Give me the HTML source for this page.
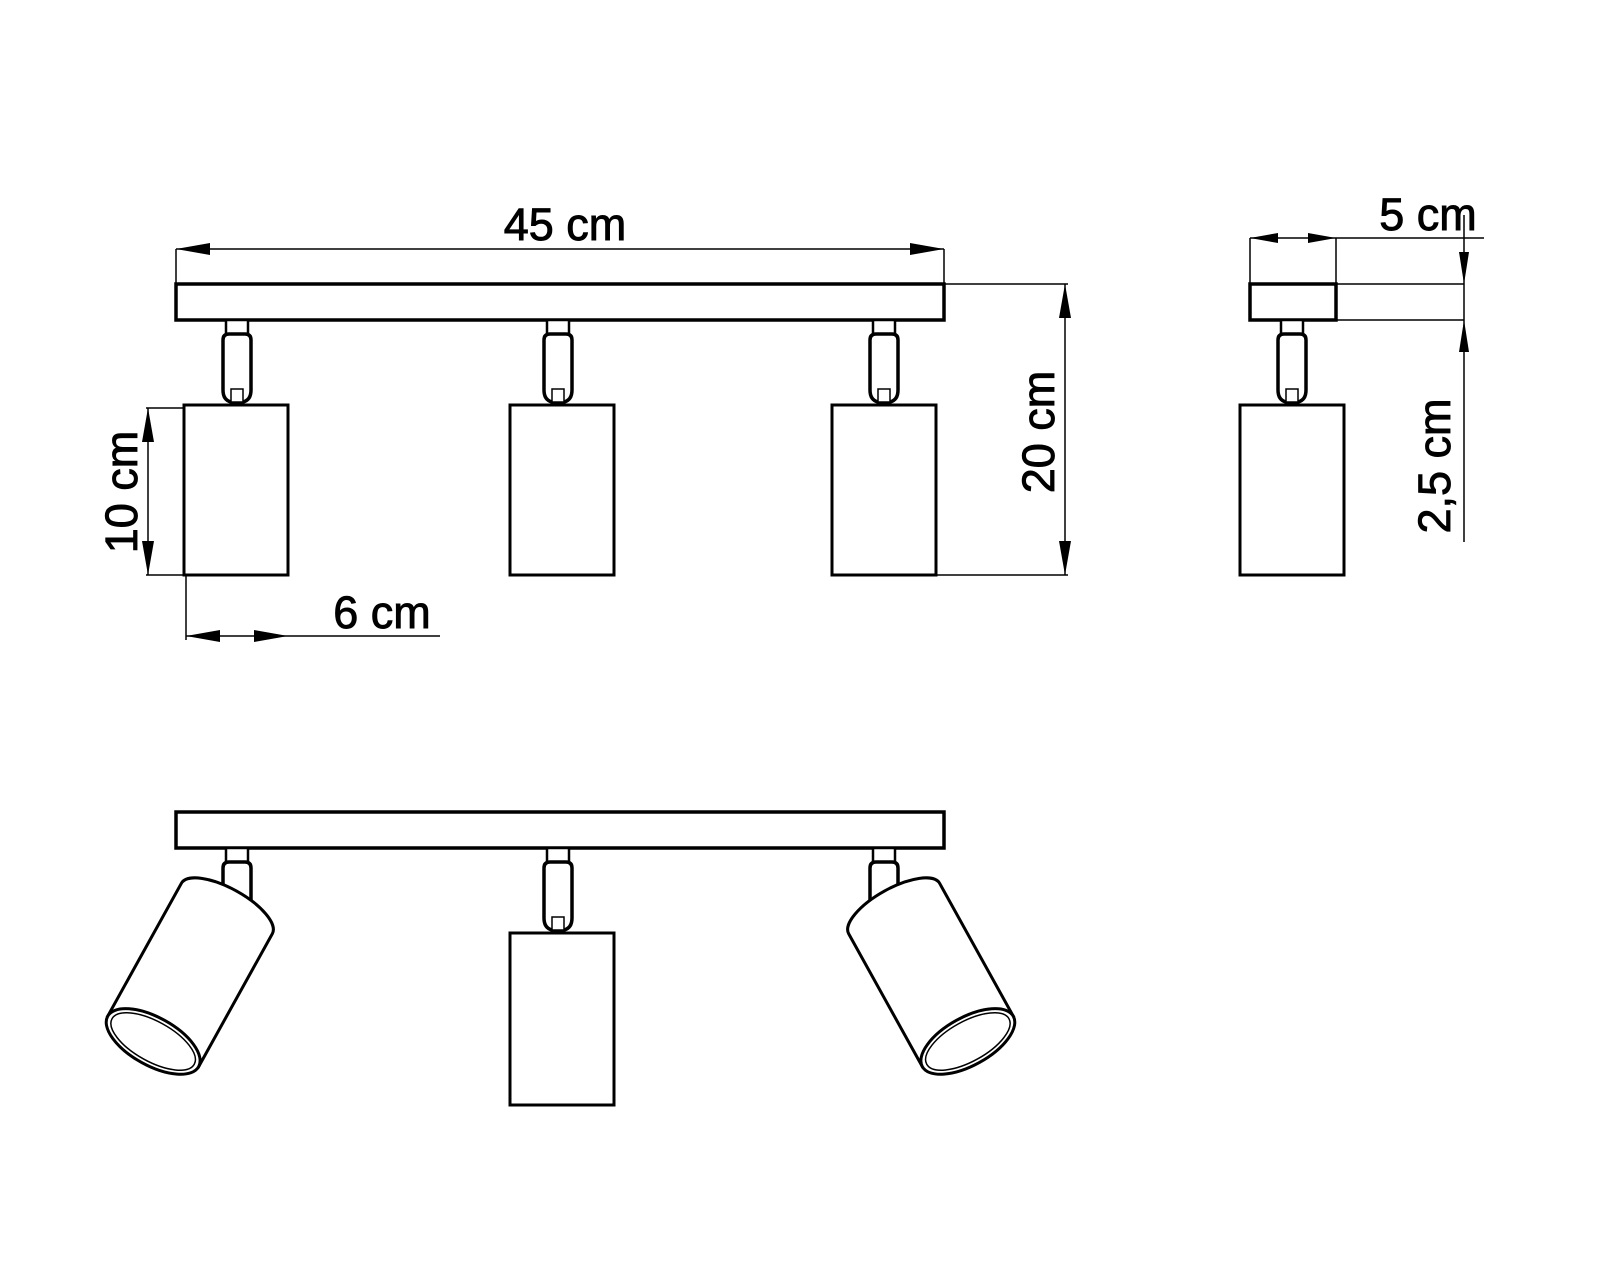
<!DOCTYPE html>
<html><head><meta charset="utf-8"><style>
html,body{margin:0;padding:0;background:#fff;}
svg{display:block;}
text{font-family:"Liberation Sans",Arial,sans-serif;font-size:45px;fill:#000;stroke:#000;stroke-width:0.9px;}
</style></head><body>
<svg width="1600" height="1280" viewBox="0 0 1600 1280" xmlns="http://www.w3.org/2000/svg">
<defs>
<g id="stem" fill="#fff" stroke="#000">
  <rect x="-11" y="0" width="22" height="14" stroke-width="2.5"/>
  <path d="M-14,20 Q-14,14 -8,14 L8,14 Q14,14 14,20 L14,70 Q14,80 6,82 L-6,82 Q-14,80 -14,70 Z" stroke-width="3.5"/>
  <rect x="-6" y="69" width="12" height="13" stroke-width="1.5"/>
</g>
<g id="cyl" fill="#fff" stroke="#000">
  <path d="M-52,-76 A52 20 0 0 1 52,-76 L52,76 L-52,76 Z" stroke-width="3"/>
  <ellipse cx="0" cy="76" rx="52" ry="24" stroke-width="3"/>
  <ellipse cx="0" cy="76" rx="47" ry="20" stroke-width="1.5"/>
</g>
</defs>
<g fill="none" stroke="#000">
<rect x="176" y="284" width="768" height="36" stroke-width="3.5" fill="#fff"/>
<g transform="translate(237,320)"><use href="#stem"/></g>
<g transform="translate(558,320)"><use href="#stem"/></g>
<g transform="translate(884,320)"><use href="#stem"/></g>
<rect x="184" y="405" width="104" height="170" stroke-width="3"/>
<rect x="510" y="405" width="104" height="170" stroke-width="3"/>
<rect x="832" y="405" width="104" height="170" stroke-width="3"/>

<g stroke-width="1.5">
<line x1="176" y1="249" x2="944" y2="249"/>
<line x1="176" y1="249" x2="176" y2="284"/>
<line x1="944" y1="249" x2="944" y2="284"/>
<line x1="944" y1="284" x2="1068" y2="284"/>
<line x1="936" y1="575" x2="1068" y2="575"/>
<line x1="1065" y1="284" x2="1065" y2="575"/>
<line x1="146" y1="408" x2="184" y2="408"/>
<line x1="146" y1="575" x2="184" y2="575"/>
<line x1="148" y1="408" x2="148" y2="575"/>
<line x1="186" y1="575" x2="186" y2="640"/>
<line x1="186" y1="636" x2="440" y2="636"/>
<line x1="1250" y1="238" x2="1484" y2="238"/>
<line x1="1250" y1="238" x2="1250" y2="284"/>
<line x1="1336" y1="238" x2="1336" y2="284"/>
<line x1="1336" y1="284" x2="1464" y2="284"/>
<line x1="1336" y1="320" x2="1464" y2="320"/>
<line x1="1464" y1="215" x2="1464" y2="542"/>
</g>
</g>
<g fill="#000">
<polygon points="176,249 210,243 210,255"/>
<polygon points="944,249 910,243 910,255"/>
<polygon points="1065,284 1059,318 1071,318"/>
<polygon points="1065,575 1059,541 1071,541"/>
<polygon points="148,408 142,442 154,442"/>
<polygon points="148,575 142,541 154,541"/>
<polygon points="186,636 220,630 220,642"/>
<polygon points="288,636 254,630 254,642"/>
<polygon points="1250,238 1278,233 1278,243"/>
<polygon points="1336,238 1308,233 1308,243"/>
<polygon points="1464,284 1459,252 1469,252"/>
<polygon points="1464,320 1459,352 1469,352"/>
</g>
<text x="565" y="240" text-anchor="middle">45 cm</text>
<text transform="translate(1054,432) rotate(-90)" text-anchor="middle">20 cm</text>
<text transform="translate(137,492) rotate(-90)" text-anchor="middle">10 cm</text>
<text x="382" y="628" text-anchor="middle">6 cm</text>
<text x="1428" y="230" text-anchor="middle">5 cm</text>
<text transform="translate(1450,466) rotate(-90)" text-anchor="middle">2,5 cm</text>

<g fill="#fff" stroke="#000">
<rect x="1250" y="284" width="86" height="36" stroke-width="3.5"/>
<g transform="translate(1292,320)"><use href="#stem"/></g>
<rect x="1240" y="405" width="104" height="170" stroke-width="3"/>
</g>

<g fill="#fff" stroke="#000">
<rect x="176" y="812" width="768" height="36" stroke-width="3.5"/>
<g transform="translate(237,848)"><use href="#stem"/></g>
<g transform="translate(558,848)"><use href="#stem"/></g>
<g transform="translate(884,848)"><use href="#stem"/></g>
<rect x="510" y="933" width="104" height="172" stroke-width="3"/>
<g transform="translate(190,975) rotate(29)"><use href="#cyl"/></g>
<g transform="translate(931,975) rotate(-29)"><use href="#cyl"/></g>
</g>
</svg>
</body></html>
